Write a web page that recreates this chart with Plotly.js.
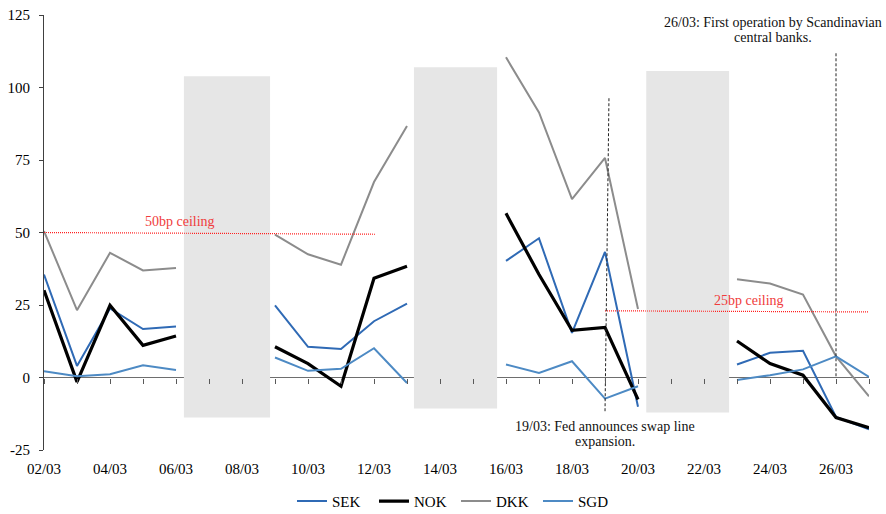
<!DOCTYPE html>
<html><head><meta charset="utf-8">
<script src="https://cdn.plot.ly/plotly-3.0.1.min.js"></script>
<style>html,body{margin:0;padding:0;background:#fff}#chart{width:886px;height:514px}</style>
</head><body><div id="chart"></div>
<script>
const dates = ['02/03','03/03','04/03','05/03','06/03','07/03','08/03','09/03','10/03','11/03','12/03','13/03','14/03',
  '15/03','16/03','17/03','18/03','19/03','20/03','21/03','22/03','23/03','24/03','25/03','26/03','27/03'];
const SEK = [35.5,4.0,23.8,16.7,17.6,null,null,24.9,10.6,9.8,19.4,25.5,null,null,40.2,48.0,15.4,43.3,-10.1,null,null,4.5,8.5,9.2,-13.6,-17.9];
const NOK = [30.1,-1.5,24.9,11.1,14.3,null,null,10.6,4.8,-3.0,34.2,38.4,null,null,56.6,35.5,16.3,17.3,-7.6,null,null,12.6,4.8,0.8,-13.8,-17.3];
const DKK = [50.5,23.2,43.0,36.9,37.8,null,null,49.3,42.5,38.9,67.4,86.7,null,null,110.4,91.4,61.5,75.7,23.6,null,null,33.9,32.4,28.6,7.3,-6.5];
const SGD = [2.2,0.4,1.1,4.2,2.6,null,null,6.9,2.3,3.0,10.1,-1.9,null,null,4.5,1.6,5.6,-7.3,-3.0,null,null,-0.9,0.8,2.8,7.3,0.2];

// weekend bands (in day-index units and bp)
const bandStart = [4.24, 11.21, 18.25];
const bandEnd = [6.85, 13.73, 20.76];
const bandTop = [103.9, 107.0, 105.7];
const bandBottom = [-13.8, -10.7, -12.1];

// ceilings
const ceil50X = [0, 10.04], ceil50Y = [50.0, 49.4];
const ceil25X = [17.0, 25.0], ceil25Y = [23.0, 22.6];

// event lines
const eventX = [[17.12, 17.0], [24.0, 24.0]];
const eventY = [[96.3, -12.3], [111.8, 0.2]];

const yTicks = [-25, 0, 25, 50, 75, 100, 125];

const idx = dates.map((d, i) => i);
const labelIdx = idx.filter(i => i % 2 === 0);
const FONT = '"Liberation Serif", "Times New Roman", serif';

const traces = [];
traces.push({
  type: 'bar',
  x: bandStart.map((s, i) => (s + bandEnd[i]) / 2),
  width: bandStart.map((s, i) => bandEnd[i] - s),
  base: bandBottom,
  y: bandTop.map((t, i) => t - bandBottom[i]),
  marker: {color: '#e6e6e6', line: {width: 0}},
  hoverinfo: 'skip', showlegend: false
});
const series = [
  {name: 'SEK', y: SEK, color: '#2f6ab5', width: 2},
  {name: 'NOK', y: NOK, color: '#000000', width: 3.2},
  {name: 'DKK', y: DKK, color: '#8c8c8c', width: 2},
  {name: 'SGD', y: SGD, color: '#4d8ac4', width: 2}
];
series.forEach(s => traces.push({
  type: 'scatter', mode: 'lines', name: s.name, x: idx, y: s.y,
  line: {color: s.color, width: s.width}, connectgaps: false
}));
traces.push({type: 'scatter', mode: 'lines', x: ceil50X, y: ceil50Y, xaxis: 'x2',
  line: {color: '#ff2020', width: 1.2, dash: '1px,1px'}, showlegend: false, hoverinfo: 'skip'});
traces.push({type: 'scatter', mode: 'lines', x: ceil25X, y: ceil25Y, xaxis: 'x2',
  line: {color: '#ff2020', width: 1.2, dash: '1px,1px'}, showlegend: false, hoverinfo: 'skip'});
eventX.forEach((ex, i) => traces.push({type: 'scatter', mode: 'lines', x: ex, y: eventY[i], xaxis: 'x2',
  line: {color: '#222222', width: 1, dash: '3px,2px'}, showlegend: false, hoverinfo: 'skip'}));

const annFont = {family: FONT, size: 14, color: '#111'};
const redFont = {family: FONT, size: 14, color: '#f03c3c'};
const layout = {
  width: 886, height: 514,
  margin: {l: 44, r: 17, t: 15, b: 64, autoexpand: false},
  paper_bgcolor: '#fff', plot_bgcolor: '#fff',
  font: {family: FONT, size: 15, color: '#000'},
  showlegend: true,
  legend: {orientation: 'h', x: 0.3006, xanchor: 'left', y: -0.118, yanchor: 'middle',
    font: {family: FONT, size: 15, color: '#000'}, itemwidth: 30,
    entrywidth: 37, entrywidthmode: 'pixels'},
  xaxis: {range: [0, 25], showgrid: false, zeroline: false, showline: false, ticks: '',
    tickvals: labelIdx, ticktext: labelIdx.map(i => dates[i]), ticklabelstandoff: 8,
    tickfont: {family: FONT, size: 15, color: '#000'}},
  xaxis2: {range: [0, 25], overlaying: 'x', anchor: 'free', position: 25 / 150,
    showgrid: false, zeroline: false, showline: false, ticks: 'outside', ticklen: 5,
    tickcolor: '#595959', tickwidth: 1, tickvals: idx, showticklabels: false},
  yaxis: {range: [-25, 125], tickvals: yTicks, ticktext: yTicks.map(String), showgrid: false, zeroline: true,
    zerolinecolor: '#6e6e6e', zerolinewidth: 1.5, showline: true, linecolor: '#404040', linewidth: 1,
    ticks: 'outside', ticklen: 4, tickcolor: '#404040', ticklabelstandoff: 6,
    tickfont: {family: FONT, size: 15, color: '#000'}},
  annotations: [
    {x: 4.11, y: 53.9, xref: 'x', yref: 'y', text: '50bp ceiling', showarrow: false, font: redFont},
    {x: 21.35, y: 26.7, xref: 'x', yref: 'y', text: '25bp ceiling', showarrow: false, font: redFont},
    {x: 17.0, y: -16.8, xref: 'x', yref: 'y', text: '19/03: Fed announces swap line', showarrow: false, font: annFont},
    {x: 17.0, y: -22.2, xref: 'x', yref: 'y', text: 'expansion.', showarrow: false, font: annFont},
    {x: 22.08, y: 122.3, xref: 'x', yref: 'y', text: '26/03: First operation by Scandinavian', showarrow: false, font: annFont},
    {x: 22.08, y: 117.4, xref: 'x', yref: 'y', text: 'central banks.', showarrow: false, font: annFont}
  ]
};
Plotly.newPlot('chart', traces, layout, {displayModeBar: false, staticPlot: true});
</script></body></html>
